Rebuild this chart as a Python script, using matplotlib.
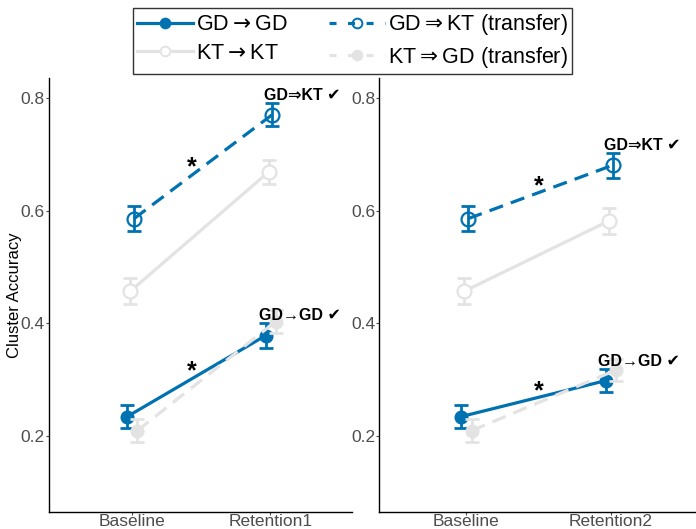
import matplotlib
matplotlib.use("Agg")
import matplotlib.pyplot as plt
from matplotlib.lines import Line2D

plt.rcParams['font.family'] = ['Liberation Sans', 'DejaVu Sans']

BLUE = '#0072B2'
GREY = '#E3E3E3'

# categories per panel
cats_left = ['Baseline', 'Retention1']
cats_right = ['Baseline', 'Retention2']

# mean accuracy and error (left panel: Baseline -> Retention1)
gd_gd_l = [0.234, 0.378]
gd_gd_l_err = [0.020, 0.022]
kt_kt_l = [0.457, 0.669]
kt_kt_l_err = [0.023, 0.022]
gd_kt_l = [0.586, 0.771]
gd_kt_l_err = [0.022, 0.020]
kt_gd_l = [0.209, 0.403]
kt_gd_l_err = [0.020, 0.020]

# right panel: Baseline -> Retention2
gd_gd_r = [0.234, 0.298]
gd_gd_r_err = [0.020, 0.020]
kt_kt_r = [0.457, 0.582]
kt_kt_r_err = [0.023, 0.023]
gd_kt_r = [0.586, 0.681]
gd_kt_r_err = [0.022, 0.022]
kt_gd_r = [0.209, 0.317]
kt_gd_r_err = [0.020, 0.020]

# significance stars and check labels (x, y in data units)
stars_left = [(1.43, 0.678), (1.43, 0.315)]
stars_right = [(1.50, 0.643), (1.50, 0.279)]
checks_left = [(1.955, 0.805, 'GD⇒KT ✔'), (1.915, 0.413, 'GD→GD ✔')]
checks_right = [(1.955, 0.716, 'GD⇒KT ✔'), (1.915, 0.332, 'GD→GD ✔')]

# dodge offsets for the four groups
dodge = [-0.035, -0.012, 0.015, 0.038]

styles = [
    dict(color=BLUE, ls='-', mfc=BLUE, ms=8.5),
    dict(color=GREY, ls='-', mfc='white', ms=10),
    dict(color=BLUE, ls='--', mfc='none', ms=10),
    dict(color=GREY, ls='--', mfc=GREY, ms=8.5),
]
labels = [r'GD$\rightarrow$GD', r'KT$\rightarrow$KT',
          r'GD$\Rightarrow$KT (transfer)', r'KT$\Rightarrow$GD (transfer)']


def draw_panel(ax, cats, series, errs, stars, checks, xmax):
    xs = [1, 2]
    for i, (ys, es) in enumerate(zip(series, errs)):
        st = styles[i]
        xx = [x + dodge[i] for x in xs]
        line, = ax.plot(xx, ys, color=st['color'], ls=st['ls'], lw=2.3,
                        zorder=2 + i)
        if st['ls'] == '--':
            line.set_dashes((4.5, 2.6))
        ax.errorbar(xx, ys, yerr=es, fmt='none', ecolor=st['color'],
                    elinewidth=2, capsize=5, capthick=2, zorder=2 + i)
        ax.plot(xx, ys, ls='none', marker='o', ms=st['ms'], mfc=st['mfc'],
                mec=st['color'], mew=1.6, zorder=2 + i)
    for x, y in stars:
        ax.text(x, y, '*', fontsize=18, fontweight='bold', ha='center',
                va='center', zorder=10)
    for x, y, t in checks:
        ax.text(x, y, t, fontsize=11.5, fontweight='bold', ha='left',
                va='center', zorder=10)
    ax.set_xlim(0.4, xmax)
    ax.set_ylim(0.065, 0.836)
    ax.set_xticks(xs)
    ax.set_xticklabels(cats)
    ax.set_yticks([0.2, 0.4, 0.6, 0.8])
    ax.set_yticklabels(['0.2', '0.4', '0.6', '0.8'])
    ax.tick_params(colors='#4D4D4D', labelsize=12.5, length=2, width=0.8,
                   pad=1)
    ax.tick_params(axis='x', pad=0)
    for s in ['top', 'right']:
        ax.spines[s].set_visible(False)
    for s in ['left', 'bottom']:
        ax.spines[s].set_linewidth(1.0)
        ax.spines[s].set_color('black')


fig = plt.figure(figsize=(6.96, 5.29), dpi=100)
ax1 = fig.add_axes([0.0704, 0.0327, 0.4353, 0.8199])
ax2 = fig.add_axes([0.545, 0.0327, 0.455, 0.8199])

draw_panel(ax1, cats_left, [gd_gd_l, kt_kt_l, gd_kt_l, kt_gd_l],
           [gd_gd_l_err, kt_kt_l_err, gd_kt_l_err, kt_gd_l_err],
           stars_left, checks_left, 2.59)
draw_panel(ax2, cats_right, [gd_gd_r, kt_kt_r, gd_kt_r, kt_gd_r],
           [gd_gd_r_err, kt_kt_r_err, gd_kt_r_err, kt_gd_r_err],
           stars_right, checks_right, 2.59)

ax1.set_ylabel('Cluster Accuracy', fontsize=12, labelpad=-1)

handles = []
for st in styles:
    h = Line2D([], [], color=st['color'], ls=st['ls'], lw=2.3, marker='o',
               ms=7, mfc=st['mfc'], mec=st['color'], mew=1.4)
    if st['ls'] == '--':
        h.set_dashes((2.2, 3.6))
    handles.append(h)

fig.legend(handles, labels, ncol=2, loc='upper center',
           bbox_to_anchor=(0.5065, 0.985), fontsize=15.5, frameon=True,
           fancybox=False, edgecolor='black', handlelength=2.6,
           handletextpad=0.15, columnspacing=1.9, labelspacing=0.35,
           borderpad=0.2, borderaxespad=0.0)

plt.savefig('out.png', dpi=100)
